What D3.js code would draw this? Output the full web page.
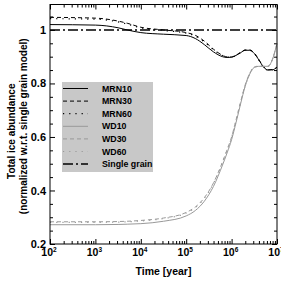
<!DOCTYPE html>
<html>
<head>
<meta charset="utf-8">
<script src="https://cdn.jsdelivr.net/npm/d3@7"></script>
<style>
  body { margin: 0; background: #fff; }
  svg { display: block; font-family: "Liberation Sans", Arial, sans-serif; font-weight: bold; }
</style>
</head>
<body>
<svg id="chart" width="281" height="281"></svg>
<script>
// log10 of time in years, shared by all series
const logTime = [2, 3, 3.5, 3.7, 4, 4.5, 5, 5.2, 5.4, 5.6, 5.8, 5.9, 6.0, 6.1, 6.2, 6.3, 6.4, 6.5, 6.6, 6.7, 6.8, 6.9, 7];

const mrn10 = [1.020, 1.018, 1.008, 1.000, 0.990, 0.984, 0.979, 0.968, 0.945, 0.918, 0.900, 0.897, 0.898, 0.905, 0.915, 0.924, 0.924, 0.912, 0.888, 0.862, 0.850, 0.851, 0.860];
const mrn30 = [1.047, 1.044, 1.033, 1.025, 1.010, 1.000, 0.990, 0.980, 0.958, 0.928, 0.905, 0.899, 0.899, 0.906, 0.916, 0.925, 0.925, 0.913, 0.889, 0.863, 0.851, 0.852, 0.861];
const mrn60 = [1.042, 1.040, 1.030, 1.022, 1.008, 0.998, 0.988, 0.977, 0.955, 0.926, 0.904, 0.898, 0.898, 0.905, 0.915, 0.924, 0.924, 0.912, 0.888, 0.862, 0.850, 0.851, 0.860];
const wd10 = [0.272, 0.272, 0.273, 0.274, 0.276, 0.285, 0.305, 0.325, 0.360, 0.415, 0.495, 0.540, 0.590, 0.655, 0.725, 0.790, 0.835, 0.860, 0.864, 0.864, 0.864, 0.890, 0.950];
const wd30 = [0.283, 0.283, 0.284, 0.285, 0.288, 0.297, 0.318, 0.338, 0.373, 0.428, 0.507, 0.552, 0.600, 0.665, 0.732, 0.795, 0.838, 0.861, 0.864, 0.864, 0.864, 0.890, 0.950];
const wd60 = [0.281, 0.281, 0.282, 0.283, 0.286, 0.295, 0.316, 0.336, 0.371, 0.426, 0.505, 0.550, 0.598, 0.663, 0.730, 0.793, 0.837, 0.861, 0.864, 0.864, 0.864, 0.890, 0.950];
const singleGrain = [1, 1, 1, 1, 1, 1, 1, 1, 1, 1, 1, 1, 1, 1, 1, 1, 1, 1, 1, 1, 1, 1, 1];

const seriesNames = ["MRN10", "MRN30", "MRN60", "WD10", "WD30", "WD60", "Single grain"];
const seriesValues = [mrn10, mrn30, mrn60, wd10, wd30, wd60, singleGrain];
const seriesColors = ["#000", "#000", "#000", "#999", "#999", "#999", "#000"];
const seriesDash = [null, "4,3", "1.2,5", null, "4,3", "1.2,5", "10,3,2,3"];
const seriesWidth = [1, 1, 1.2, 1, 1, 1.2, 1.5];

const xDecades = [1e2, 1e3, 1e4, 1e5, 1e6, 1e7];
const yMajor = [0.2, 0.4, 0.6, 0.8, 1.0];

const svg = d3.select("#chart");
const mLeft = 50, mRight = 277, mTop = 4.5, mBottom = 244;

const x = d3.scaleLog().domain([1e2, 1e7]).range([mLeft, mRight]);
const y = d3.scaleLinear().domain([0.2, 1.095]).range([mBottom, mTop]);

// minor ticks
const xMinor = x.ticks().filter(d => !xDecades.includes(d));
const yMinor = d3.range(0.25, 1.09, 0.05).filter(d => !yMajor.some(m => Math.abs(m - d) < 1e-6));

function noDomain(g) { g.select(".domain").remove(); }

svg.append("g").attr("transform", `translate(0,${mBottom})`)
  .call(d3.axisBottom(x).tickValues(xMinor).tickSize(-3).tickFormat("")).call(noDomain);
svg.append("g").attr("transform", `translate(0,${mTop})`)
  .call(d3.axisTop(x).tickValues(xMinor).tickSize(-3).tickFormat("")).call(noDomain);
svg.append("g").attr("transform", `translate(0,${mTop})`)
  .call(d3.axisTop(x).tickValues(xDecades).tickSize(-5).tickFormat("")).call(noDomain);

const xAxis = svg.append("g").attr("transform", `translate(0,${mBottom})`)
  .call(d3.axisBottom(x).tickValues(xDecades).tickSize(-5).tickPadding(3).tickFormat(""))
  .call(noDomain);
xAxis.selectAll(".tick text")
  .attr("font-size", 10.5).attr("font-weight", "bold").attr("fill", "#000")
  .attr("font-family", "Liberation Sans, Arial, sans-serif")
  .attr("dx", -1.5).attr("dy", "0.9em")
  .each(function (d) {
    const t = d3.select(this);
    t.append("tspan").text("10");
    t.append("tspan").attr("dy", -4).attr("font-size", 6.5).text(Math.round(Math.log10(d)));
  });

svg.append("g").attr("transform", `translate(${mLeft},0)`)
  .call(d3.axisLeft(y).tickValues(yMinor).tickSize(-3).tickFormat("")).call(noDomain);
svg.append("g").attr("transform", `translate(${mRight},0)`)
  .call(d3.axisRight(y).tickValues(yMinor).tickSize(-3).tickFormat("")).call(noDomain);
svg.append("g").attr("transform", `translate(${mRight},0)`)
  .call(d3.axisRight(y).tickValues(yMajor).tickSize(-5).tickFormat("")).call(noDomain);
svg.append("g").attr("transform", `translate(${mLeft},0)`)
  .call(d3.axisLeft(y).tickValues(yMajor).tickSize(-5).tickPadding(4)
    .tickFormat(d => d === 1 ? "1" : d3.format(".1f")(d)))
  .call(noDomain)
  .selectAll(".tick text")
  .attr("font-size", 11).attr("font-weight", "bold").attr("fill", "#000")
  .attr("font-family", "Liberation Sans, Arial, sans-serif");

svg.selectAll(".tick line").attr("stroke", "#000");

// legend background
const legend = svg.append("g").attr("transform", "translate(62,82)");
legend.append("rect").attr("width", 91).attr("height", 90).attr("fill", "#c8c8c8");

// curves
const line = d3.line()
  .x((d, i) => x(Math.pow(10, logTime[i])))
  .y(d => y(d))
  .curve(d3.curveMonotoneX);

const plot = svg.append("g");
plot.selectAll("path")
  .data(seriesValues)
  .join("path")
  .attr("d", line)
  .attr("fill", "none")
  .attr("stroke", (d, i) => seriesColors[i])
  .attr("stroke-width", (d, i) => seriesWidth[i])
  .attr("stroke-dasharray", (d, i) => seriesDash[i]);

// frame
svg.append("rect")
  .attr("x", mLeft).attr("y", mTop)
  .attr("width", mRight - mLeft).attr("height", mBottom - mTop)
  .attr("fill", "none").attr("stroke", "#000").attr("stroke-width", 1);

// legend entries
const rows = legend.selectAll("g.row")
  .data(seriesNames)
  .join("g")
  .attr("class", "row")
  .attr("transform", (d, i) => `translate(0,${6.5 + i * 12.6})`);
rows.append("line")
  .attr("x1", 1).attr("x2", 26)
  .attr("stroke", (d, i) => seriesColors[i])
  .attr("stroke-width", (d, i) => seriesWidth[i])
  .attr("stroke-dasharray", (d, i) => seriesDash[i]);
rows.append("text")
  .attr("x", 40).attr("dy", "0.35em")
  .attr("font-size", 8.8)
  .text(d => d);

// axis titles
svg.append("text")
  .attr("x", (mLeft + mRight) / 2).attr("y", 274.5)
  .attr("text-anchor", "middle").attr("font-size", 10.5)
  .text("Time [year]");

svg.append("text")
  .attr("transform", `translate(15,${(mTop + mBottom) / 2 + 7}) rotate(-90)`)
  .attr("text-anchor", "middle").attr("font-size", 10)
  .text("Total ice abundance");
svg.append("text")
  .attr("transform", `translate(27,${(mTop + mBottom) / 2 + 2}) rotate(-90)`)
  .attr("text-anchor", "middle").attr("font-size", 10)
  .text("(normalized w.r.t. single grain model)");
</script>
</body>
</html>
